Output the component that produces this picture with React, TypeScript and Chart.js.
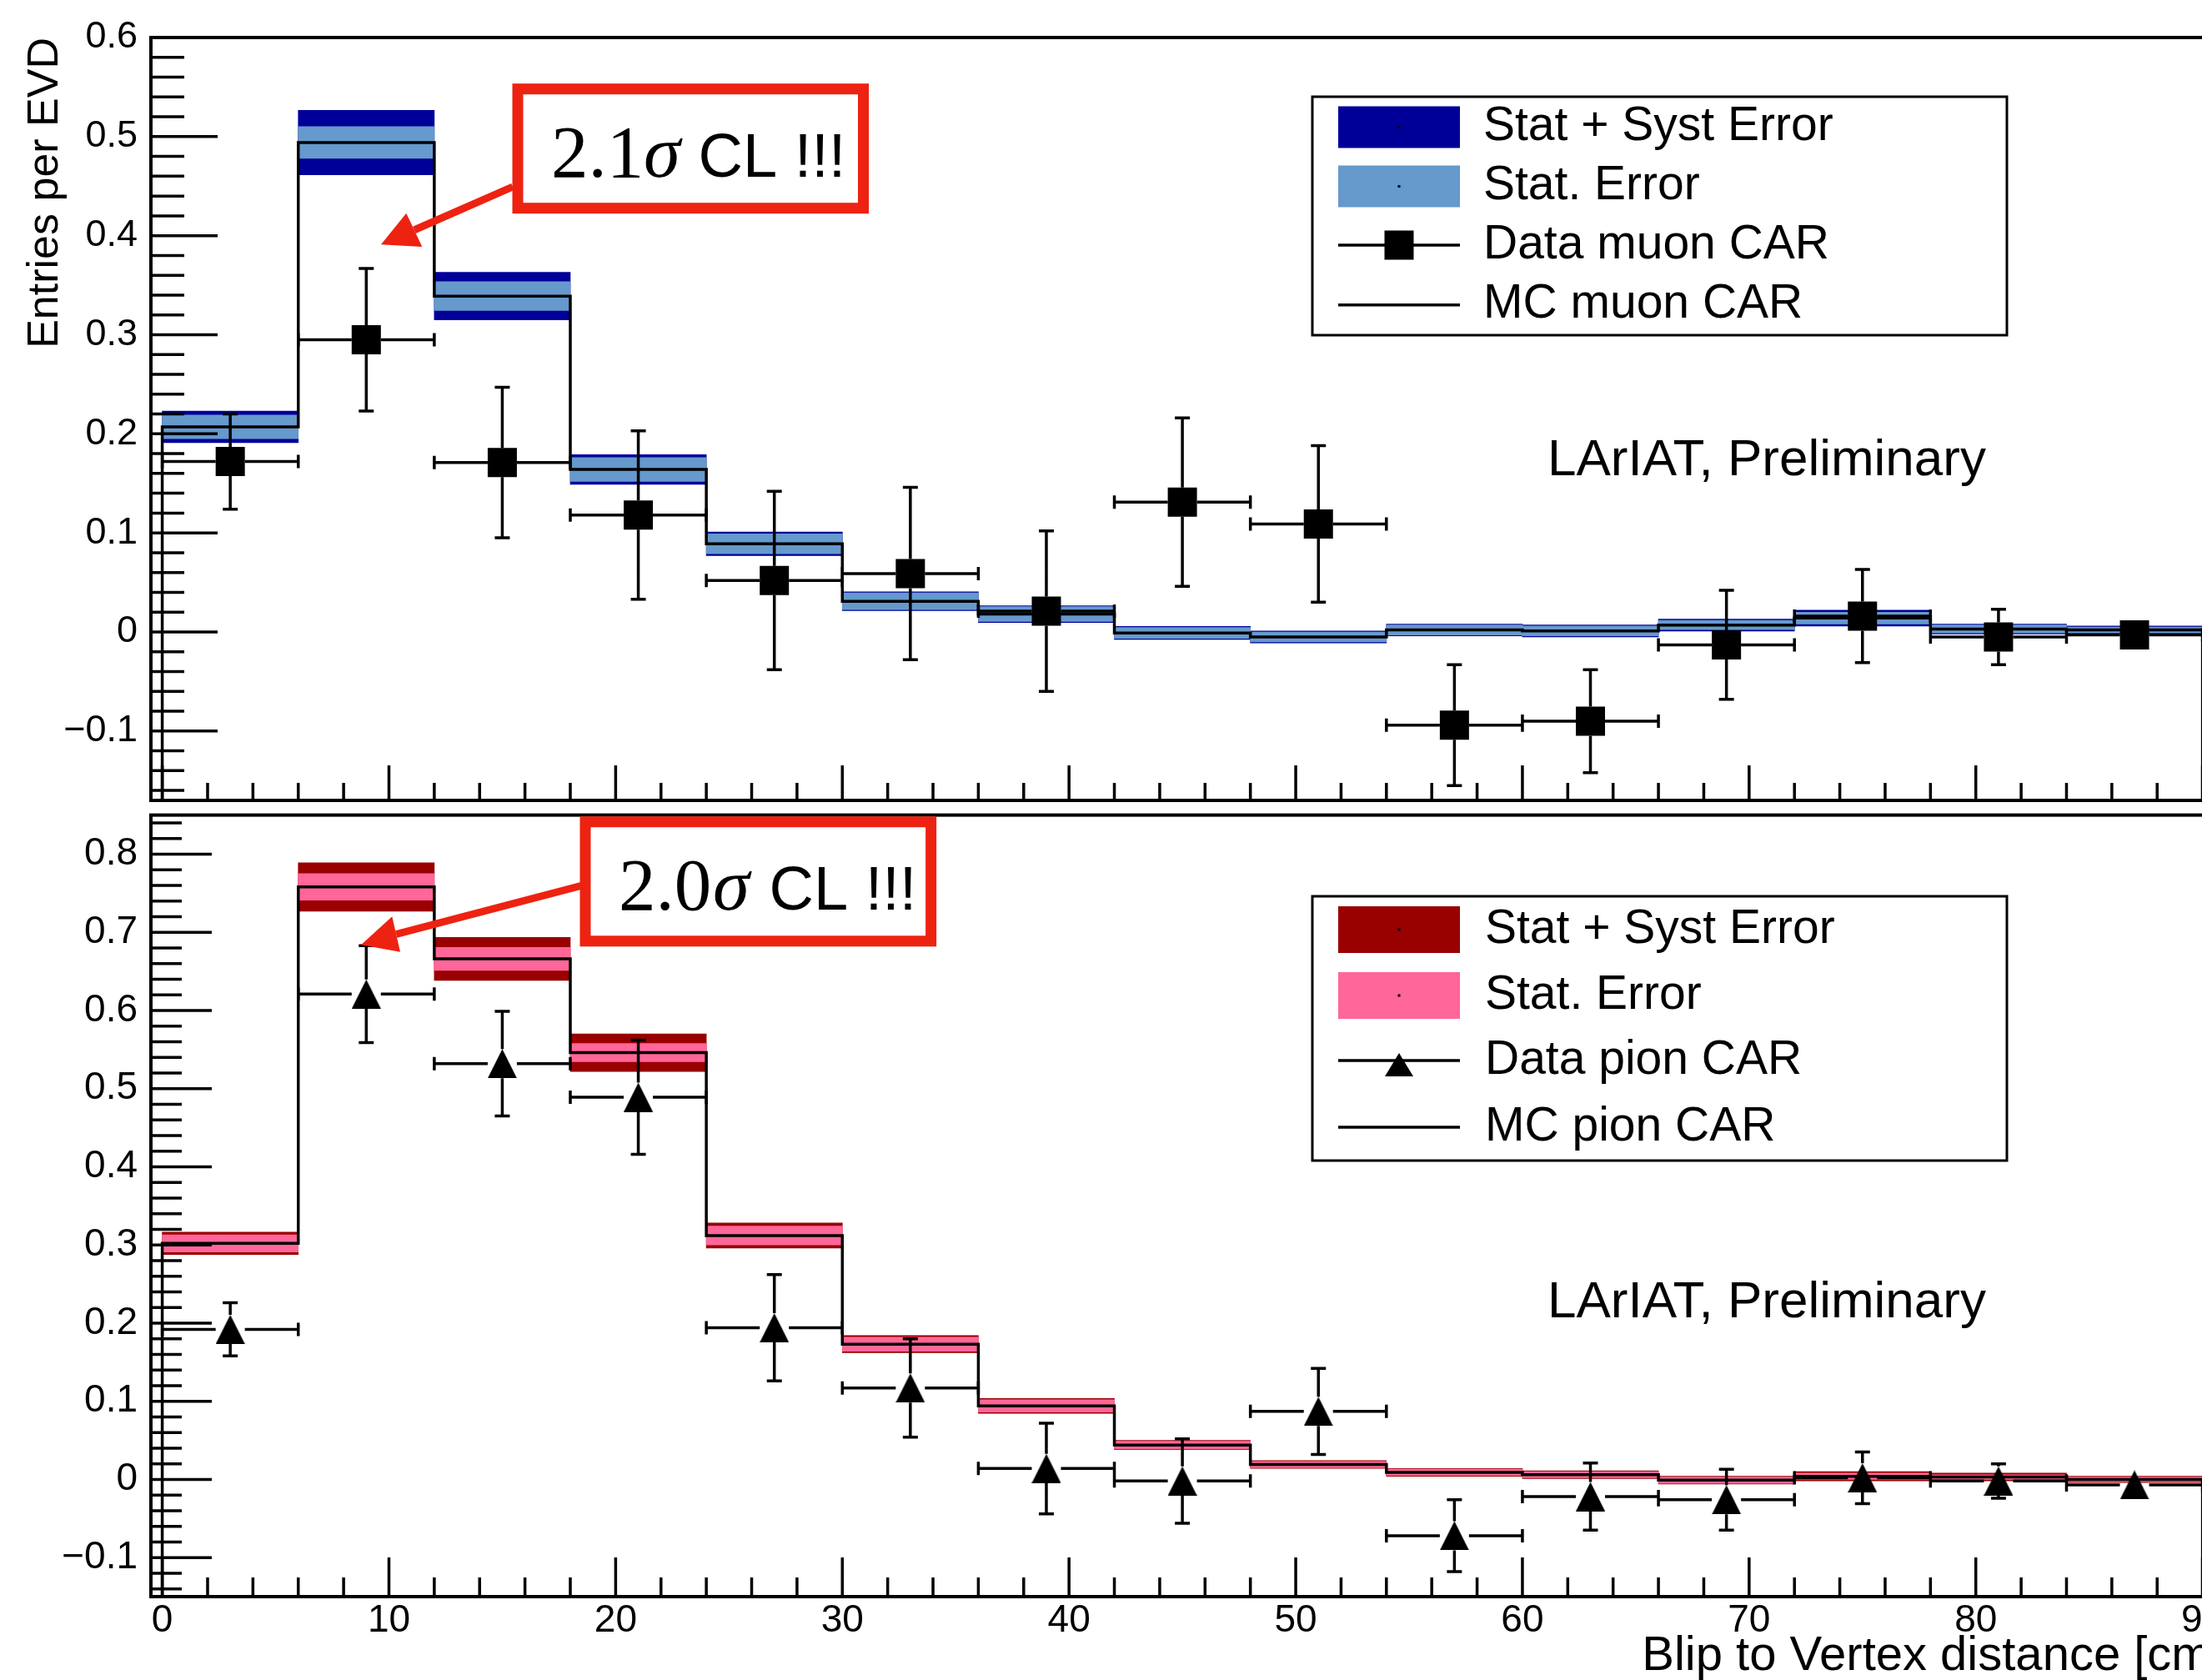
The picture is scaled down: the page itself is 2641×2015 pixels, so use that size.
import React, { useEffect, useRef } from "react";
import { Chart, registerables } from "chart.js";

Chart.register(...registerables);

const SANS = '"Liberation Sans", Arial, Helvetica, sans-serif';
const SERIF = '"Liberation Serif", "Times New Roman", serif';

// ---------------- data ----------------
const BIN_EDGES = [0, 6, 12, 18, 24, 30, 36, 42, 48, 54, 60, 66, 72, 78, 84, 90];
const BIN_CENTERS = [3, 9, 15, 21, 27, 33, 39, 45, 51, 57, 63, 69, 75, 81, 87];
const BIN_HALF_WIDTH = 3;

const MUON_MC = [0.207, 0.494, 0.339, 0.164, 0.089, 0.031, 0.018, -0.001, -0.005, 0.002, 0.001, 0.007, 0.014, 0.003, 0.002];
const MUON_MC_STAT = [0.012, 0.016, 0.0145, 0.012, 0.01, 0.0085, 0.0075, 0.0055, 0.005, 0.005, 0.005, 0.0047, 0.006, 0.004, 0.003];
const MUON_MC_TOTAL = [0.016, 0.0325, 0.024, 0.015, 0.012, 0.0095, 0.0085, 0.0065, 0.006, 0.006, 0.006, 0.006, 0.008, 0.005, 0.004];
const MUON_DATA = [0.172, 0.295, 0.171, 0.118, 0.052, 0.059, 0.021, 0.131, 0.109, -0.094, -0.09, -0.013, 0.016, -0.005, -0.003];
const MUON_DATA_ERR = [0.048, 0.072, 0.076, 0.085, 0.09, 0.087, 0.081, 0.085, 0.079, 0.061, 0.052, 0.055, 0.047, 0.028, 0.01];

const PION_MC = [0.302, 0.758, 0.666, 0.546, 0.312, 0.173, 0.094, 0.044, 0.019, 0.009, 0.006, -0.001, 0.004, 0.003, 0.0];
const PION_MC_STAT = [0.011, 0.017, 0.0147, 0.0117, 0.012, 0.009, 0.008, 0.005, 0.004, 0.004, 0.004, 0.004, 0.004, 0.003, 0.003];
const PION_MC_TOTAL = [0.0143, 0.031, 0.0276, 0.024, 0.016, 0.011, 0.0095, 0.006, 0.005, 0.005, 0.005, 0.005, 0.006, 0.005, 0.004];
const PION_DATA = [0.192, 0.621, 0.532, 0.489, 0.194, 0.117, 0.014, -0.002, 0.087, -0.072, -0.022, -0.026, 0.002, -0.002, -0.007];
const PION_DATA_ERR = [0.034, 0.062, 0.067, 0.073, 0.068, 0.063, 0.058, 0.054, 0.055, 0.046, 0.043, 0.039, 0.033, 0.022, 0.01];

const X_MIN = -0.5;
const X_MAX = 91;
const X_TICKS = [0, 10, 20, 30, 40, 50, 60, 70, 80, 90];
const MUON_Y_MIN = -0.17;
const MUON_Y_MAX = 0.6;
const MUON_Y_TICKS = [-0.1, 0, 0.1, 0.2, 0.3, 0.4, 0.5, 0.6];
const PION_Y_MIN = -0.15;
const PION_Y_MAX = 0.85;
const PION_Y_TICKS = [-0.1, 0, 0.1, 0.2, 0.3, 0.4, 0.5, 0.6, 0.7, 0.8];

const X_TITLE = "Blip to Vertex distance [cm]";
const Y_TITLE = "Entries per EVD";
const WATERMARK = "LArIAT, Preliminary";
const MUON_LEGEND_LABELS = ["Stat + Syst Error", "Stat. Error", "Data muon CAR", "MC muon CAR"];
const PION_LEGEND_LABELS = ["Stat + Syst Error", "Stat. Error", "Data pion CAR", "MC pion CAR"];
const MUON_SIGNIF = "2.1";
const PION_SIGNIF = "2.0";
const SIGMA = "\u03C3";
const CL_TEXT = "CL !!!";

// ---------------- layout & style ----------------
const CANVAS_W = 2720;
const AREA_LEFT = 181;
const AREA_RIGHT = 2668.8;
const MARKER_SIZE = 35;
const RED = "#ee2211";

const MUON_PANEL = {
  canvasTop: 0,
  canvasHeight: 1010,
  areaTop: 45,
  areaBottom: 960,
  yMin: MUON_Y_MIN,
  yMax: MUON_Y_MAX,
  yTicks: MUON_Y_TICKS,
  mc: MUON_MC,
  stat: MUON_MC_STAT,
  total: MUON_MC_TOTAL,
  data: MUON_DATA,
  dataErr: MUON_DATA_ERR,
  dark: "#000099",
  light: "#6699cc",
  marker: "square",
  yLabelSize: 45,
  yMajor: 80,
  yMinor: 40,
  xMajor: 42,
  xMinor: 21,
  showXAxis: false,
  yTitle: Y_TITLE,
  legendLabels: MUON_LEGEND_LABELS,
  legend: { box: [1574, 116, 2407, 402], swatchX: [1605, 1751], swatchH: 50, rows: [152.5, 223.5, 294, 365.7], textX: 1779 },
  note: { box: [621, 106.7, 1035.5, 249.7], from: [615, 224], tip: [457, 293.3], head: [[487.3, 255.7], [506.3, 296]], numX: 661, sigmaX: 772, clX: 837.5, baseline: 211.7 },
  signif: MUON_SIGNIF,
  mark: { x: 1856, baseline: 570 },
};

const PION_PANEL = {
  canvasTop: 925,
  canvasHeight: 1105,
  areaTop: 977.6,
  areaBottom: 1915,
  yMin: PION_Y_MIN,
  yMax: PION_Y_MAX,
  yTicks: PION_Y_TICKS,
  mc: PION_MC,
  stat: PION_MC_STAT,
  total: PION_MC_TOTAL,
  data: PION_DATA,
  dataErr: PION_DATA_ERR,
  dark: "#990000",
  light: "#ff6699",
  marker: "triangle",
  yLabelSize: 46,
  yMajor: 73,
  yMinor: 37,
  xMajor: 47,
  xMinor: 23,
  showXAxis: true,
  yTitle: "",
  legendLabels: PION_LEGEND_LABELS,
  legend: { box: [1574, 1075, 2407, 1392], swatchX: [1605, 1751], swatchH: 56, rows: [1115, 1194, 1272, 1352], textX: 1781 },
  note: { box: [702, 985.7, 1116.6, 1128.8], from: [706, 1060], tip: [433, 1133.3], head: [[470.3, 1099.3], [480, 1141.7]], numX: 742, sigmaX: 855, clX: 922.5, baseline: 1090.7 },
  signif: PION_SIGNIF,
  mark: { x: 1856, baseline: 1580 },
};

function fmtTick(v: number): string {
  if (Math.abs(v) < 1e-9) return "0";
  const s = v.toFixed(1);
  return s.startsWith("-") ? "\u2212" + s.slice(1) : s;
}

function makeTriangle(w: number, h: number): HTMLCanvasElement {
  const c = document.createElement("canvas");
  c.width = w;
  c.height = h;
  const g = c.getContext("2d")!;
  g.fillStyle = "#000";
  g.beginPath();
  g.moveTo(w / 2, 0);
  g.lineTo(w, h);
  g.lineTo(0, h);
  g.closePath();
  g.fill();
  return c;
}

function drawLegend(ctx: CanvasRenderingContext2D, p: any, offY: number) {
  const L = p.legend;
  const [x1, y1, x2, y2] = L.box;
  ctx.save();
  ctx.fillStyle = "#fff";
  ctx.fillRect(x1, y1 - offY, x2 - x1, y2 - y1);
  ctx.strokeStyle = "#000";
  ctx.lineWidth = 3;
  ctx.strokeRect(x1, y1 - offY, x2 - x1, y2 - y1);
  const [sx1, sx2] = L.swatchX;
  const cx = (sx1 + sx2) / 2;
  [p.dark, p.light].forEach((c: string, i: number) => {
    const cy = L.rows[i] - offY;
    ctx.fillStyle = c;
    ctx.fillRect(sx1, cy - L.swatchH / 2, sx2 - sx1, L.swatchH);
    ctx.fillStyle = "#000";
    ctx.fillRect(cx - 1.5, cy - 1.5, 3, 3);
  });
  ctx.lineWidth = 3.5;
  let cy = L.rows[2] - offY;
  ctx.beginPath();
  ctx.moveTo(sx1, cy);
  ctx.lineTo(sx2, cy);
  ctx.stroke();
  ctx.fillStyle = "#000";
  if (p.marker === "square") {
    ctx.fillRect(cx - MARKER_SIZE / 2, cy - MARKER_SIZE / 2, MARKER_SIZE, MARKER_SIZE);
  } else {
    ctx.beginPath();
    ctx.moveTo(cx, cy - 9);
    ctx.lineTo(cx + 17, cy + 19);
    ctx.lineTo(cx - 17, cy + 19);
    ctx.closePath();
    ctx.fill();
  }
  cy = L.rows[3] - offY;
  ctx.beginPath();
  ctx.moveTo(sx1, cy);
  ctx.lineTo(sx2, cy);
  ctx.stroke();
  ctx.font = `57px ${SANS}`;
  ctx.textBaseline = "middle";
  ctx.textAlign = "left";
  ctx.fillStyle = "#000";
  p.legendLabels.forEach((t: string, i: number) => ctx.fillText(t, L.textX, L.rows[i] - offY));
  ctx.restore();
}

function drawNote(ctx: CanvasRenderingContext2D, p: any, offY: number) {
  const N = p.note;
  const [bx1, by1, bx2, by2] = N.box;
  ctx.save();
  ctx.fillStyle = "#fff";
  ctx.fillRect(bx1, by1 - offY, bx2 - bx1, by2 - by1);
  ctx.strokeStyle = RED;
  ctx.lineWidth = 13;
  ctx.strokeRect(bx1, by1 - offY, bx2 - bx1, by2 - by1);
  const [[ax, ay], [bx, by]] = N.head;
  const mx = (ax + bx) / 2;
  const my = (ay + by) / 2;
  ctx.lineWidth = 9;
  ctx.lineCap = "butt";
  ctx.beginPath();
  ctx.moveTo(N.from[0], N.from[1] - offY);
  ctx.lineTo(mx, my - offY);
  ctx.stroke();
  ctx.fillStyle = RED;
  ctx.beginPath();
  ctx.moveTo(N.tip[0], N.tip[1] - offY);
  ctx.lineTo(ax, ay - offY);
  ctx.lineTo(bx, by - offY);
  ctx.closePath();
  ctx.fill();
  ctx.fillStyle = "#000";
  ctx.textBaseline = "alphabetic";
  ctx.textAlign = "left";
  ctx.font = `89px ${SERIF}`;
  ctx.fillText(p.signif, N.numX, N.baseline - offY);
  ctx.font = `italic 89px ${SERIF}`;
  ctx.fillText(SIGMA, N.sigmaX, N.baseline - offY);
  ctx.font = `74px ${SANS}`;
  ctx.fillText(CL_TEXT, N.clX, N.baseline - offY);
  ctx.restore();
}

function buildChart(canvas: HTMLCanvasElement, p: any): Chart {
  const offY = p.canvasTop;
  const nb = BIN_CENTERS.length;
  const firstEdge = BIN_EDGES[0];
  const lastEdge = BIN_EDGES[BIN_EDGES.length - 1];
  const stepPts = [
    { x: firstEdge, y: p.yMin },
    { x: firstEdge, y: p.mc[0] },
    ...BIN_CENTERS.map((x, i) => ({ x, y: p.mc[i] })),
    { x: lastEdge, y: p.mc[nb - 1] },
    { x: lastEdge, y: p.yMin },
  ];
  const band = (err: number[], color: string, order: number) => ({
    type: "bar",
    data: BIN_CENTERS.map((x, i) => ({ x, y: [p.mc[i] - err[i], p.mc[i] + err[i]] })),
    backgroundColor: color,
    borderWidth: 0,
    borderSkipped: false,
    barPercentage: 1,
    categoryPercentage: 1,
    grouped: false,
    order,
  });
  const markerStyle = p.marker === "square" ? "rect" : makeTriangle(MARKER_SIZE, MARKER_SIZE);
  const markerRadius = p.marker === "square" ? MARKER_SIZE / Math.SQRT2 : MARKER_SIZE / 2;

  const errorBars = {
    id: "errorBars",
    afterDatasetsDraw(chart: any) {
      const { ctx, chartArea: a } = chart;
      const xs = chart.scales.x;
      const ys = chart.scales.y;
      const m = MARKER_SIZE / 2;
      const capW = 9;
      const capH = 8;
      ctx.save();
      ctx.beginPath();
      ctx.rect(a.left, a.top, a.right - a.left, a.bottom - a.top);
      ctx.clip();
      ctx.strokeStyle = "#000";
      ctx.lineWidth = 3.5;
      ctx.beginPath();
      BIN_CENTERS.forEach((x, i) => {
        const px = xs.getPixelForValue(x);
        const py = ys.getPixelForValue(p.data[i]);
        const xl = xs.getPixelForValue(x - BIN_HALF_WIDTH);
        const xr = xs.getPixelForValue(x + BIN_HALF_WIDTH);
        const yt = ys.getPixelForValue(p.data[i] + p.dataErr[i]);
        const yb = ys.getPixelForValue(p.data[i] - p.dataErr[i]);
        if (xl < px - m) {
          ctx.moveTo(xl, py); ctx.lineTo(px - m, py);
          ctx.moveTo(xl, py - capH); ctx.lineTo(xl, py + capH);
        }
        if (xr > px + m) {
          ctx.moveTo(px + m, py); ctx.lineTo(xr, py);
          ctx.moveTo(xr, py - capH); ctx.lineTo(xr, py + capH);
        }
        if (yt < py - m) {
          ctx.moveTo(px, py - m); ctx.lineTo(px, yt);
          ctx.moveTo(px - capW, yt); ctx.lineTo(px + capW, yt);
        }
        if (yb > py + m) {
          ctx.moveTo(px, py + m); ctx.lineTo(px, yb);
          ctx.moveTo(px - capW, yb); ctx.lineTo(px + capW, yb);
        }
      });
      ctx.stroke();
      ctx.restore();
    },
  };

  const frameTicks = {
    id: "frameTicks",
    afterDatasetsDraw(chart: any) {
      const { ctx, chartArea: a } = chart;
      const xs = chart.scales.x;
      const ys = chart.scales.y;
      ctx.save();
      ctx.strokeStyle = "#000";
      ctx.lineWidth = 3.5;
      ctx.beginPath();
      const yMajorStep = p.yTicks[1] - p.yTicks[0];
      const yStep = yMajorStep / 5;
      for (let k = Math.ceil(p.yMin / yStep - 1e-6); k * yStep <= p.yMax + 1e-9; k++) {
        const v = k * yStep;
        const major = Math.abs(v / yMajorStep - Math.round(v / yMajorStep)) < 1e-6;
        const py = ys.getPixelForValue(v);
        ctx.moveTo(a.left, py);
        ctx.lineTo(a.left + (major ? p.yMajor : p.yMinor), py);
      }
      const xMajorStep = X_TICKS[1] - X_TICKS[0];
      const xStep = xMajorStep / 5;
      for (let k = Math.ceil(X_MIN / xStep - 1e-6); k * xStep <= X_MAX + 1e-9; k++) {
        const v = k * xStep;
        const major = Math.abs(v / xMajorStep - Math.round(v / xMajorStep)) < 1e-6;
        const px = xs.getPixelForValue(v);
        ctx.moveTo(px, a.bottom);
        ctx.lineTo(px, a.bottom - (major ? p.xMajor : p.xMinor));
      }
      ctx.stroke();
      ctx.lineWidth = 4;
      ctx.strokeRect(a.left, a.top, a.right - a.left, a.bottom - a.top);
      ctx.restore();
    },
  };

  const overlay = {
    id: "overlay",
    afterDraw(chart: any) {
      const ctx = chart.ctx;
      drawLegend(ctx, p, offY);
      drawNote(ctx, p, offY);
      ctx.save();
      ctx.fillStyle = "#000";
      ctx.font = `62px ${SANS}`;
      ctx.textBaseline = "alphabetic";
      ctx.textAlign = "left";
      ctx.fillText(WATERMARK, p.mark.x, p.mark.baseline - offY);
      ctx.restore();
    },
  };

  return new Chart(canvas, {
    type: "line",
    data: {
      datasets: [
        {
          type: "scatter",
          data: BIN_CENTERS.map((x, i) => ({ x, y: p.data[i] })),
          pointStyle: markerStyle,
          pointRadius: markerRadius,
          pointBackgroundColor: "#000",
          pointBorderColor: "#000",
          pointBorderWidth: 0,
          showLine: false,
          order: 0,
        },
        {
          type: "line",
          data: stepPts,
          stepped: "middle",
          borderColor: "#000",
          borderWidth: 3.5,
          pointRadius: 0,
          fill: false,
          tension: 0,
          order: 1,
        },
        band(p.stat, p.light, 2),
        band(p.total, p.dark, 3),
      ],
    },
    options: {
      responsive: false,
      maintainAspectRatio: false,
      animation: false,
      devicePixelRatio: 1,
      events: [],
      layout: { padding: { left: 0, right: CANVAS_W - AREA_RIGHT, top: p.areaTop - offY, bottom: 0 } },
      plugins: { legend: { display: false }, tooltip: { enabled: false }, title: { display: false } },
      scales: {
        x: {
          type: "linear",
          min: X_MIN,
          max: X_MAX,
          offset: false,
          bounds: "data",
          afterBuildTicks: (s: any) => { s.ticks = X_TICKS.map((v) => ({ value: v })); },
          afterFit: (s: any) => {
            s.height = offY + p.canvasHeight - p.areaBottom;
            s.paddingLeft = 0;
            s.paddingRight = 0;
          },
          grid: { display: false, drawTicks: false },
          border: { display: false },
          ticks: {
            display: p.showXAxis,
            autoSkip: false,
            maxRotation: 0,
            minRotation: 0,
            padding: 2,
            color: "#000",
            font: { family: SANS, size: 46 },
            callback: (v: any) => String(v),
          },
          title: {
            display: p.showXAxis,
            text: X_TITLE,
            align: "end",
            color: "#000",
            font: { family: SANS, size: 58 },
            padding: { top: 0, bottom: 8 + (offY + p.canvasHeight - 2030) },
          },
        },
        y: {
          type: "linear",
          min: p.yMin,
          max: p.yMax,
          bounds: "data",
          afterBuildTicks: (s: any) => { s.ticks = p.yTicks.map((v: number) => ({ value: v })); },
          afterFit: (s: any) => {
            s.width = AREA_LEFT;
            s.paddingTop = 0;
            s.paddingBottom = 0;
          },
          grid: { display: false, drawTicks: false },
          border: { display: false },
          ticks: {
            autoSkip: false,
            padding: 16,
            color: "#000",
            font: { family: SANS, size: p.yLabelSize },
            callback: (v: any) => fmtTick(Number(v)),
          },
          title: {
            display: !!p.yTitle,
            text: p.yTitle,
            align: "end",
            color: "#000",
            font: { family: SANS, size: 52 },
            padding: { top: 23, bottom: 0 },
          },
        },
      },
    } as any,
    plugins: [errorBars, frameTicks, overlay],
  } as any);
}

function Panel({ cfg }: { cfg: any }) {
  const ref = useRef<HTMLCanvasElement>(null);
  useEffect(() => {
    if (!ref.current) return;
    const chart = buildChart(ref.current, cfg);
    return () => chart.destroy();
  }, [cfg]);
  return (
    <canvas
      ref={ref}
      width={CANVAS_W}
      height={cfg.canvasHeight}
      style={{ position: "absolute", left: 0, top: cfg.canvasTop, width: CANVAS_W, height: cfg.canvasHeight }}
    />
  );
}

export default function App() {
  return (
    <div
      style={{
        position: "fixed",
        left: 0,
        top: 0,
        width: "100vw",
        height: "100vh",
        overflow: "hidden",
        background: "#fff",
      }}
    >
      <Panel cfg={MUON_PANEL} />
      <Panel cfg={PION_PANEL} />
    </div>
  );
}
